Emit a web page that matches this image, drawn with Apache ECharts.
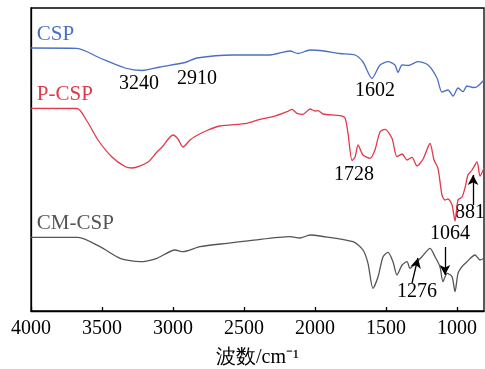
<!DOCTYPE html>
<html><head><meta charset="utf-8">
<script src="https://cdn.jsdelivr.net/npm/echarts@6/dist/echarts.min.js"></script>
<style>html,body{margin:0;padding:0;background:#fff}#c{width:485px;height:369px}</style>
</head><body><div id="c"></div>
<script>
// Wavenumber (cm^-1) and offset transmittance (arbitrary units)
const wnCSP = [4000,3676,3514,3338,3218,3092,2915,2831,2577,2317,2176,2120,2035,1965,1824,1718,1662,1599,1542,1486,1437,1416,1387,1345,1275,1204,1141,1106,1063,1028,993,958,930,887,859,810];
const tCSP  = [263,262.7,253,243,240.5,244,248.5,253,256,256,260,257.5,261,260.5,257.5,256,249,232.7,246,249.3,246,238.5,246,245.5,249.3,246,233,219,221,215,223,219.3,225,223.5,224.3,231];

const wnP = [4000,3676,3606,3528,3430,3338,3289,3176,3113,3077,3000,2965,2930,2880,2845,2761,2669,2479,2387,2296,2197,2162,2127,2085,2035,2000,1979,1944,1824,1789,1768,1739,1718,1697,1662,1613,1578,1542,1507,1458,1423,1387,1352,1317,1282,1239,1190,1162,1134,1106,1085,1063,1035,1014,993,965,944,923,894,859,838,810];
const tP  = [202.7,202.5,190,171,154,144.5,143,149,159,164,176,172,164,171,174.5,180.5,185,187.7,191.7,194.3,199.3,201.7,197.7,196.7,202,200,200.3,197,195.3,193,178,150.5,154,166,156,152.7,161,179.3,181.7,172.7,154.3,157,151,153.7,145,152,167.5,151,142.7,116,111,112,106,90,111,114,123,136,141,149,135,143];

const wnCM = [4000,3669,3514,3373,3232,3113,2986,2930,2810,2620,2458,2176,2106,2035,1965,1732,1662,1627,1592,1556,1521,1486,1451,1423,1387,1352,1331,1282,1247,1190,1155,1120,1099,1070,1035,1014,993,965,930,873,838,810];
const tCM  = [73.7,73.7,64.3,52.7,49.3,52.7,61,59.3,64.3,67.7,70.3,74.3,73,76,75,69.3,61,47.7,22.7,34.3,54.3,58.7,49.3,36,46,49.3,42.7,49.3,54.3,62.7,54.3,44.3,29.3,37.7,34.3,19.3,37.7,44.3,49.3,56,51,52.7];

const xTicks = [4000,3500,3000,2500,2000,1500,1000];
const seriesNames = ['CSP','P-CSP','CM-CSP'];
// peak annotations: [text, wavenumber, y]
const peakLabels = [['3240',3239,227],['2910',2831,232],['1602',1577,220],['1728',1725,136],['881',908,98],['1064',1049,77],['1276',1282,19]];
// arrows: [wn_start, y_start, wn_end, y_end]
const arrows = [[887,106,887,136],[1085,64,1085,36],[1317,28,1275,53]];

const pair = (a,b)=>a.map((v,i)=>[v,b[i]]);
const FONT = '"Times New Roman","Liberation Serif",serif';
const colors = ['#4a70c2','#e03a4b','#555555'];

const chart = echarts.init(document.getElementById('c'));
const option = {
  animation:false,
  grid:{left:31,right:1,top:8,bottom:58,outerBoundsMode:'none',containLabel:false,show:true,borderColor:'#000',borderWidth:1.3},
  xAxis:{type:'value',inverse:true,min:810,max:4000,interval:500,
    axisLine:{show:true,lineStyle:{color:'#000',width:1.3}},
    axisTick:{show:true,inside:true,length:4,lineStyle:{color:'#000',width:1.3},customValues:xTicks},
    axisLabel:{color:'#000',fontFamily:FONT,fontSize:20,margin:8,customValues:xTicks,hideOverlap:false,
      formatter:v=>String(v)},
    splitLine:{show:false},
    name:'波数/cm⁻¹',nameLocation:'middle',nameGap:37,
    nameTextStyle:{color:'#000',fontFamily:FONT,fontSize:20}},
  yAxis:{type:'value',min:0,max:303,axisLabel:{show:false},axisTick:{show:false},splitLine:{show:false},
    axisLine:{show:true,lineStyle:{color:'#000',width:1.3}}},
  series:[
    {name:seriesNames[0],type:'line',data:pair(wnCSP,tCSP),showSymbol:false,smooth:0.25,lineStyle:{color:colors[0],width:1.3}},
    {name:seriesNames[1],type:'line',data:pair(wnP,tP),showSymbol:false,smooth:0.25,lineStyle:{color:colors[1],width:1.3}},
    {name:seriesNames[2],type:'line',data:pair(wnCM,tCM),showSymbol:false,smooth:0.25,lineStyle:{color:colors[2],width:1.3},
      markLine:{silent:true,symbol:['none','arrow'],symbolSize:[8,10],label:{show:false},
        lineStyle:{color:'#000',width:1.3,type:'solid'},
        data:arrows.map(a=>[{coord:[a[0],a[1]]},{coord:[a[2],a[3]]}])}}
  ]
};
chart.setOption(option);

const g = [];
peakLabels.forEach(p=>{
  const pt = chart.convertToPixel({gridIndex:0},[p[1],p[2]]);
  g.push({type:'text',x:pt[0],y:pt[1],style:{text:p[0],fill:'#000',font:'20px '+FONT,align:'center',verticalAlign:'middle'}});
});
const nameY = [[263,'CSP'],[202.7,'P-CSP'],[73.7,'CM-CSP']];
nameY.forEach((n,i)=>{
  const pt = chart.convertToPixel({gridIndex:0},[3980,n[0]]);
  g.push({type:'text',x:pt[0]+3,y:pt[1]-13.5,style:{text:n[1],fill:colors[i],font:'21px '+FONT,align:'left',verticalAlign:'middle'}});
});
chart.setOption({graphic:g});
</script></body></html>
